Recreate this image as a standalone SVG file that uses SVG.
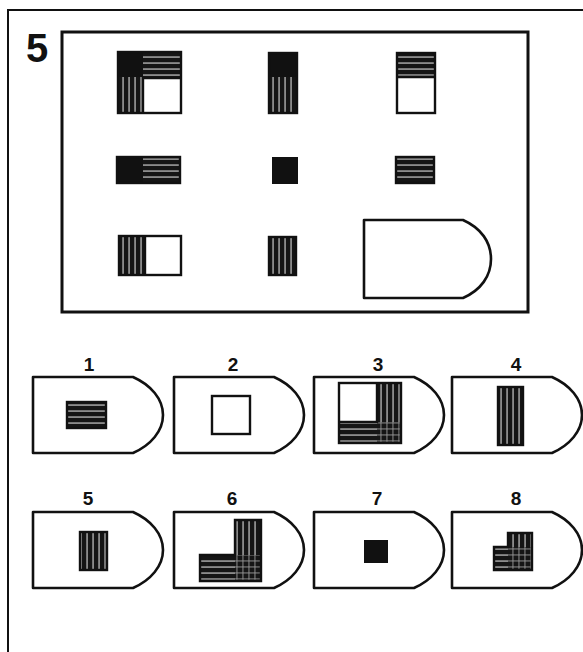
<svg xmlns="http://www.w3.org/2000/svg" width="583" height="652" viewBox="0 0 583 652">
<style>
.frame{fill:none;stroke:#111;stroke-width:2}
.box{fill:none;stroke:#111;stroke-width:3}
.sh{fill:#fff;stroke:#111;stroke-width:2.6;stroke-linejoin:round}
.ol{fill:none;stroke:#111;stroke-width:2.4}
.blk{fill:#111}
.wht{fill:#fff}
.hs{fill:url(#hs)}
.vs{fill:url(#vs)}
.xs{fill:url(#xs)}
.lbl{font-family:"Liberation Sans",Arial,sans-serif;font-weight:bold;font-size:19px;fill:#111;text-anchor:middle}
.big{font-family:"Liberation Sans",Arial,sans-serif;font-weight:bold;font-size:40px;fill:#111}
</style>
<defs>
<pattern id="hs" patternUnits="userSpaceOnUse" width="6" height="6">
<rect width="6" height="6" fill="#151515"/><rect y="2.5" width="6" height="1.1" fill="#d8d8d8"/>
</pattern>
<pattern id="vs" patternUnits="userSpaceOnUse" width="6" height="6">
<rect width="6" height="6" fill="#151515"/><rect x="2.5" width="1.1" height="6" fill="#d8d8d8"/>
</pattern>
<pattern id="xs" patternUnits="userSpaceOnUse" width="6" height="6">
<rect width="6" height="6" fill="#151515"/><rect x="2.5" width="0.9" height="6" fill="#999"/><rect y="2.5" width="6" height="0.9" fill="#999"/>
</pattern>
<path id="shield" d="M0,0 H100 C118,8 130,22 130,38 C130,54 118,68 100,76 H0 Z"/>
</defs>
<rect width="583" height="652" fill="#fff"/>

<g id="frame">
<path class="frame" d="M8,652 V10 H583"/>
<text class="big" x="26" y="62">5</text>
<rect class="box" x="62" y="32" width="466" height="280"/>
</g>

<g id="cell-1-1">
<rect class="blk" x="118" y="52" width="25" height="25"/>
<rect class="hs" x="143" y="52" width="38" height="25"/>
<rect class="vs" x="118" y="77" width="25" height="36"/>
<rect class="wht" x="143" y="77" width="38" height="36"/>
<path class="ol" d="M143,113 V78 H181"/>
<rect class="ol" x="118" y="52" width="63" height="61"/>
</g>
<g id="cell-1-2">
<rect class="blk" x="269" y="53" width="28" height="24"/>
<rect class="vs" x="269" y="77" width="28" height="36"/>
<rect class="ol" x="269" y="53" width="28" height="60"/>
</g>
<g id="cell-1-3">
<rect class="hs" x="397" y="53" width="38" height="24"/>
<rect class="wht" x="397" y="77" width="38" height="36"/>
<line class="ol" x1="397" y1="77" x2="435" y2="77"/>
<rect class="ol" x="397" y="53" width="38" height="60"/>
</g>
<g id="cell-2-1">
<rect class="blk" x="117" y="157" width="26" height="26"/>
<rect class="hs" x="143" y="157" width="37" height="26"/>
<rect class="ol" x="117" y="157" width="63" height="26"/>
</g>
<g id="cell-2-2">
<rect class="blk" x="273" y="158" width="24" height="25" stroke="#111" stroke-width="2"/>
</g>
<g id="cell-2-3">
<rect class="hs" x="396" y="157" width="38" height="26"/>
<rect class="ol" x="396" y="157" width="38" height="26"/>
</g>
<g id="cell-3-1">
<rect class="vs" x="119" y="236" width="26" height="39"/>
<rect class="wht" x="145" y="236" width="36" height="39"/>
<line class="ol" x1="145" y1="236" x2="145" y2="275"/>
<rect class="ol" x="119" y="236" width="62" height="39"/>
</g>
<g id="cell-3-2">
<rect class="vs" x="269" y="237" width="27" height="38"/>
<rect class="ol" x="269" y="237" width="27" height="38"/>
</g>
<g id="cell-3-3">
<path class="sh" d="M364,220 H463 C481,228 491,242 491,259 C491,276 481,290 463,298 H364 Z"/>
</g>

<g id="opt-1">
<text class="lbl" x="89" y="371">1</text>
<use href="#shield" class="sh" x="33" y="377"/>
<rect class="hs" x="67" y="402" width="39" height="26"/>
<rect class="ol" x="67" y="402" width="39" height="26"/>
</g>
<g id="opt-2">
<text class="lbl" x="233" y="371">2</text>
<use href="#shield" class="sh" x="174" y="377"/>
<rect class="ol" x="212" y="396" width="38" height="38"/>
</g>
<g id="opt-3">
<text class="lbl" x="378" y="371">3</text>
<use href="#shield" class="sh" x="314" y="377"/>
<rect class="vs" x="377" y="383" width="24" height="39"/>
<rect class="hs" x="339" y="422" width="38" height="21"/>
<rect class="xs" x="377" y="422" width="24" height="21"/>
<path class="ol" d="M339,422 H377 V383"/>
<rect class="ol" x="339" y="383" width="62" height="60"/>
</g>
<g id="opt-4">
<text class="lbl" x="516" y="371">4</text>
<use href="#shield" class="sh" x="452" y="377"/>
<rect class="vs" x="498" y="387" width="25" height="58"/>
<rect class="ol" x="498" y="387" width="25" height="58"/>
</g>

<g id="opt-5">
<text class="lbl" x="88" y="505">5</text>
<use href="#shield" class="sh" x="33" y="512"/>
<rect class="vs" x="80" y="532" width="27" height="38"/>
<rect class="ol" x="80" y="532" width="27" height="38"/>
</g>
<g id="opt-6">
<text class="lbl" x="232" y="505">6</text>
<use href="#shield" class="sh" x="174" y="512"/>
<rect class="vs" x="235" y="520" width="26" height="35"/>
<rect class="hs" x="200" y="555" width="35" height="26"/>
<rect class="xs" x="235" y="555" width="26" height="26"/>
<path class="ol" d="M200,555 H235 V520 H261 V581 H200 Z"/>
</g>
<g id="opt-7">
<text class="lbl" x="377" y="505">7</text>
<use href="#shield" class="sh" x="314" y="512"/>
<rect class="blk" x="364" y="540" width="24" height="23"/>
</g>
<g id="opt-8">
<text class="lbl" x="516" y="505">8</text>
<use href="#shield" class="sh" x="452" y="512"/>
<rect class="vs" x="508" y="533" width="24" height="14"/>
<rect class="hs" x="494" y="547" width="14" height="23"/>
<rect class="xs" x="508" y="547" width="24" height="23"/>
<path class="ol" d="M494,547 H508 V533 H532 V570 H494 Z"/>
</g>
</svg>
